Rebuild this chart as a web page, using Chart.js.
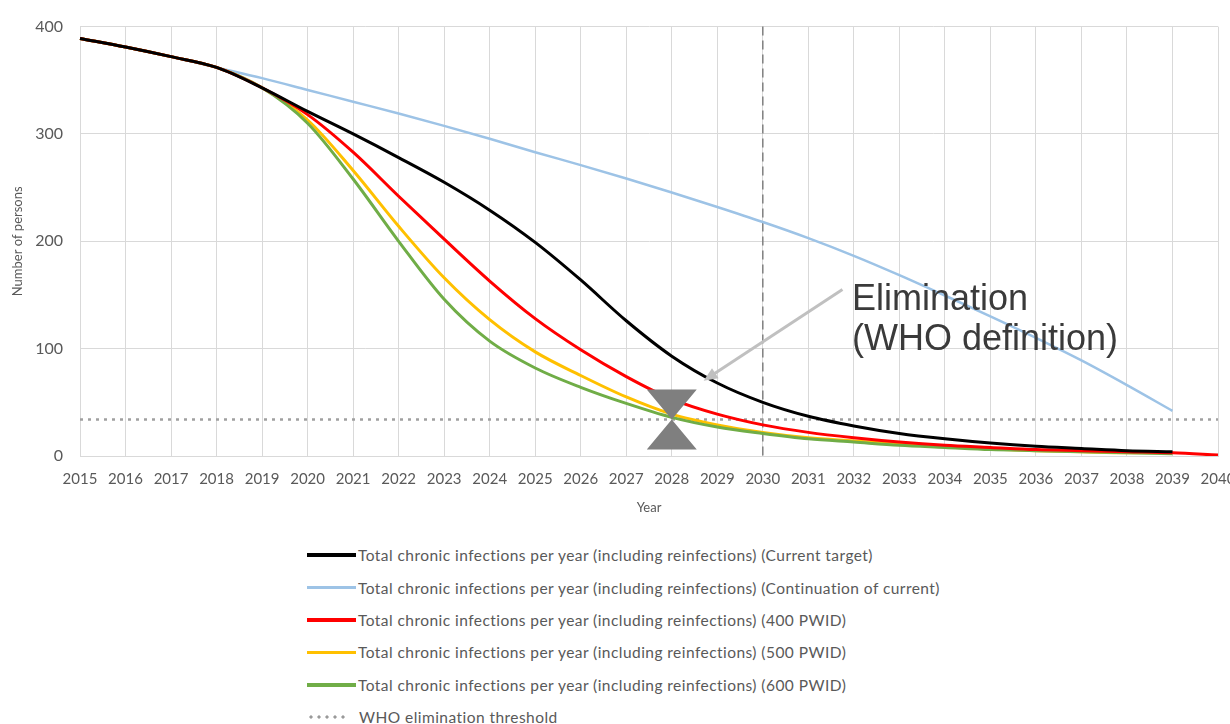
<!DOCTYPE html>
<html>
<head>
<meta charset="utf-8">
<script src="https://cdn.jsdelivr.net/npm/chart.js@4.4.1/dist/chart.umd.min.js"></script>
<style>
    html, body { margin: 0; padding: 0; background: #fff; width: 1230px; height: 724px; overflow: hidden; }
    #wrap { position: absolute; left: 0; top: 0; width: 1252px; height: 524px; }
    #legend { position: absolute; left: 307px; top: 539px; font-family: Lato, sans-serif; font-size: 15.5px;
              letter-spacing: 0.45px; color: #595959; }
    .row { height: 32.4px; display: flex; align-items: center; white-space: nowrap; }
    .swatch { width: 49px; height: 3.5px; margin-right: 2px; }
    .dots { width: 40px; height: 6px; margin-right: 12px;
            background-image: radial-gradient(circle, #9a9a9a 1.4px, transparent 1.8px);
            background-size: 8px 6px; }
</style>
</head>
<body>
<div id="wrap"><canvas id="chart" width="1252" height="524"></canvas></div>
<div id="legend"></div>
<script>
// x axis: one label per year
const YEARS = [2015, 2016, 2017, 2018, 2019, 2020, 2021, 2022, 2023, 2024, 2025, 2026, 2027,
               2028, 2029, 2030, 2031, 2032, 2033, 2034, 2035, 2036, 2037, 2038, 2039, 2040];

// chronic infections per year
const CURRENT_TARGET = [389, 381, 372, 362, 343, 321, 300, 278, 255, 229, 199, 164, 126,
                        93, 68, 50, 37, 28, 21, 16, 12, 9, 7, 5, 4, null];
const CONTINUATION   = [389, 381, 372, 362, 352, 341, 330, 319, 307.5, 295.5, 283, 271, 258.5,
                        245.5, 232, 218, 203, 186.5, 168.5, 149.5, 130, 110, 89, 66, 42, null];
const PWID_400       = [389, 381, 372, 362, 343, 318, 283, 242, 202, 163, 128, 99, 74,
                        53, 39, 29, 22, 17, 13, 10, 8, 6, 5, 4, 3, 1];
const PWID_500       = [389, 381, 372, 362, 343, 313, 266, 214, 166, 127, 97, 75, 55,
                        39, 29, 22, 17, 14, 11, 8.5, 6.5, 5, 4, 3, 3, null];
const PWID_600       = [389, 381, 372, 362, 343, 310, 258, 200, 146, 107, 82, 64, 49,
                        36, 27, 21, 16, 13, 10, 8, 6, 5, 4, 3, 2, null];

const WHO_THRESHOLD = 34;
const TARGET_YEAR = 2030;
const ELIMINATION_YEAR = 2028;

const LABELS = [
    'Total chronic infections per year (including reinfections) (Current target)',
    'Total chronic infections per year (including reinfections) (Continuation of current)',
    'Total chronic infections per year (including reinfections) (400 PWID)',
    'Total chronic infections per year (including reinfections) (500 PWID)',
    'Total chronic infections per year (including reinfections) (600 PWID)',
    'WHO elimination threshold',
];

const COLORS = {
    black: '#000000',
    blue: '#9dc3e6',
    red: '#ff0000',
    yellow: '#ffc000',
    green: '#70ad47',
    threshold: '#a0a0a0',
    grid: '#d9d9d9',
    text: '#595959',
};

Chart.defaults.font.family = 'Lato, sans-serif';
Chart.defaults.color = COLORS.text;

function lineSet(label, data, color, order, width) {
    return {
        label,
        data,
        borderColor: color,
        backgroundColor: color,
        borderWidth: width || 3,
        pointRadius: 0,
        fill: false,
        cubicInterpolationMode: 'monotone',
        order,
    };
}

// 2030 marker, hourglass at the elimination point, and the callout
const overlay = {
    id: 'overlay',
    beforeDatasetsDraw(chart) {
        const { ctx, chartArea, scales: { x } } = chart;
        const xt = x.getPixelForValue(YEARS.indexOf(TARGET_YEAR));
        ctx.save();
        ctx.strokeStyle = '#808080';
        ctx.lineWidth = 1.5;
        ctx.setLineDash([9, 5]);
        ctx.beginPath();
        ctx.moveTo(xt, chartArea.top);
        ctx.lineTo(xt, chartArea.bottom);
        ctx.stroke();
        ctx.restore();
    },
    afterDatasetsDraw(chart) {
        const { ctx, scales: { x, y } } = chart;
        const px = yr => x.getPixelForValue(yr - YEARS[0]);

        // hourglass
        const cx = px(ELIMINATION_YEAR);
        const cy = y.getPixelForValue(WHO_THRESHOLD);
        const hw = 25, hh = 30;
        ctx.save();
        ctx.fillStyle = '#7f7f7f';
        ctx.beginPath();
        ctx.moveTo(cx - hw, cy - hh);
        ctx.lineTo(cx + hw, cy - hh);
        ctx.lineTo(cx, cy);
        ctx.closePath();
        ctx.moveTo(cx - hw, cy + hh);
        ctx.lineTo(cx + hw, cy + hh);
        ctx.lineTo(cx, cy);
        ctx.closePath();
        ctx.fill();

        // arrow
        const x0 = px(2031.75), y0 = y.getPixelForValue(155);
        const x1 = px(2028.7), y1 = y.getPixelForValue(70);
        const ang = Math.atan2(y1 - y0, x1 - x0);
        ctx.strokeStyle = '#c0c0c0';
        ctx.fillStyle = '#c0c0c0';
        ctx.lineWidth = 3;
        ctx.beginPath();
        ctx.moveTo(x0, y0);
        ctx.lineTo(x1 - Math.cos(ang) * 10, y1 - Math.sin(ang) * 10);
        ctx.stroke();
        ctx.beginPath();
        ctx.moveTo(x1, y1);
        ctx.lineTo(x1 - Math.cos(ang) * 14 + Math.sin(ang) * 6, y1 - Math.sin(ang) * 14 - Math.cos(ang) * 6);
        ctx.lineTo(x1 - Math.cos(ang) * 14 - Math.sin(ang) * 6, y1 - Math.sin(ang) * 14 + Math.cos(ang) * 6);
        ctx.closePath();
        ctx.fill();

        // callout text
        ctx.fillStyle = '#3a3a3a';
        ctx.font = '36px "Liberation Sans", Arial, sans-serif';
        ctx.textAlign = 'left';
        ctx.textBaseline = 'alphabetic';
        const tx = px(2031.96);
        ctx.fillText('Elimination', tx, y.getPixelForValue(136));
        ctx.fillText('(WHO definition)', tx, y.getPixelForValue(99));
        ctx.restore();
    },
};

new Chart(document.getElementById('chart'), {
    type: 'line',
    data: {
        labels: YEARS,
        datasets: [
            lineSet(LABELS[0], CURRENT_TARGET, COLORS.black, 1),
            lineSet(LABELS[1], CONTINUATION, COLORS.blue, 6, 2.5),
            lineSet(LABELS[2], PWID_400, COLORS.red, 2),
            lineSet(LABELS[3], PWID_500, COLORS.yellow, 4),
            lineSet(LABELS[4], PWID_600, COLORS.green, 3),
            {
                label: LABELS[5],
                data: YEARS.map(() => WHO_THRESHOLD),
                borderColor: COLORS.threshold,
                borderWidth: 2.5,
                borderDash: [3, 5],
                pointRadius: 0,
                fill: false,
                order: 5,
            },
        ],
    },
    options: {
        responsive: false,
        animation: false,
        layout: { padding: { left: 0, right: 34, top: 20, bottom: 0 } },
        scales: {
            x: {
                grid: { color: COLORS.grid, drawTicks: false },
                border: { color: COLORS.grid },
                ticks: { padding: 14, font: { size: 15 }, maxRotation: 0, autoSkip: false },
                title: { display: true, text: 'Year', font: { size: 13 }, padding: { top: 0, bottom: 8 } },
                afterFit: (s) => { s.height = 68; },
            },
            y: {
                min: 0,
                max: 400,
                grid: { color: COLORS.grid, drawTicks: false },
                border: { color: COLORS.grid },
                ticks: { stepSize: 100, padding: 17, font: { size: 16 } },
                title: { display: true, text: 'Number of persons', font: { size: 13 }, padding: { top: 10, bottom: 0 } },
                afterFit: (s) => { s.width = 80; },
            },
        },
        plugins: {
            legend: { display: false },
            tooltip: { enabled: false },
        },
    },
    plugins: [overlay],
});

// legend below the chart
const legendEl = document.getElementById('legend');
const swatchColors = [COLORS.black, COLORS.blue, COLORS.red, COLORS.yellow, COLORS.green];
LABELS.forEach((text, i) => {
    const row = document.createElement('div');
    row.className = 'row';
    const sw = document.createElement('span');
    if (i < swatchColors.length) {
        sw.className = 'swatch';
        sw.style.background = swatchColors[i];
    } else {
        sw.className = 'dots';
    }
    const lbl = document.createElement('span');
    lbl.textContent = text;
    row.appendChild(sw);
    row.appendChild(lbl);
    legendEl.appendChild(row);
});
</script>
</body>
</html>
